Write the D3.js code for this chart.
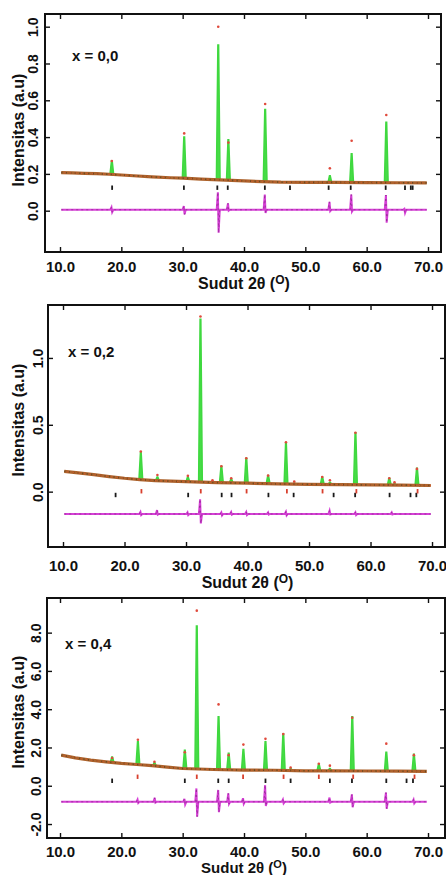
<!DOCTYPE html>
<html>
<head>
<meta charset="utf-8">
<script src="https://cdn.jsdelivr.net/npm/d3@7"></script>
<style>
  body { margin: 0; background: #fff; }
  text { font-family: "Liberation Sans", Arial, sans-serif; font-weight: bold; fill: #111; }
</style>
</head>
<body>
<svg id="chart" width="446" height="875"></svg>
<script>
// x ticks shared by all three panels
const xTicks = [10, 20, 30, 40, 50, 60, 70];

// ---- panel x = 0,0 ----
// background of the observed pattern [2theta, intensity]
const bg1 = [[10.2,0.207],[12,0.205],[14,0.203],[16,0.201],[18,0.198],[20,0.194],[22,0.19],[25,0.184],
  [28,0.179],[30,0.177],[33,0.172],[35,0.169],[38,0.165],[40,0.162],[43,0.158],[46,0.155],[50,0.154],
  [55,0.154],[60,0.153],[65,0.152],[69.8,0.151]];
// peaks [2theta, base, calculated top, observed top]
const peaks1 = [[18.45,0.198,0.27,0.27],[30.25,0.177,0.40,0.42],[35.8,0.168,0.90,1.00],[37.45,0.165,0.385,0.37],
  [43.45,0.158,0.55,0.58],[54.0,0.154,0.19,0.23],[57.55,0.153,0.31,0.38],[63.2,0.152,0.48,0.52]];
const braggBlack1 = [18.5,30.2,35.65,37.35,43.4,47.5,53.8,57.4,63.1,66.25,67.2,67.5];
const braggRed1 = [];
// difference spikes [2theta, high, low]
const diff1 = [[18.45,0.018,-0.008],[30.25,0.025,-0.02],[35.8,0.10,-0.12],[37.45,0.04,0.0],[43.45,0.088,-0.012],
  [54.0,0.048,-0.002],[57.55,0.088,-0.005],[63.2,0.085,-0.065],[66.2,0.01,-0.012]];
const yTicks1 = [0, 0.2, 0.4, 0.6, 0.8, 1.0];

// ---- panel x = 0,2 ----
const bg2 = [[10.2,0.152],[12.5,0.14],[15,0.127],[17.5,0.113],[20,0.1],[22.5,0.09],[25,0.083],[27.5,0.078],
  [30,0.075],[35,0.068],[40,0.063],[45,0.058],[50,0.055],[55,0.053],[60,0.05],[65,0.049],[69.8,0.046]];
const peaks2 = [[22.65,0.09,0.29,0.30],[25.35,0.083,0.11,0.125],[30.3,0.075,0.11,0.118],[32.35,0.072,1.29,1.31],
  [34.3,0.07,0.075,0.085],[35.75,0.068,0.19,0.19],[37.35,0.066,0.095,0.10],[39.8,0.063,0.25,0.25],
  [43.35,0.06,0.12,0.12],[46.25,0.058,0.36,0.37],[47.6,0.057,0.065,0.075],[52.15,0.054,0.11,0.11],
  [53.4,0.054,0.07,0.085],[57.55,0.052,0.44,0.44],[63.05,0.05,0.10,0.10],[63.9,0.05,0.06,0.07],
  [67.55,0.048,0.175,0.17]];
const braggBlack2 = [18.55,30.35,35.8,37.4,43.4,47.5,54.0,57.5,63.1,66.5,67.45];
const braggRed2 = [22.75,32.4,39.85,46.4,52.2,57.7,67.65];
const diff2 = [[22.65,-0.152,-0.175],[25.35,-0.138,-0.172],[30.3,-0.155,-0.175],[32.35,-0.057,-0.238],
  [35.8,-0.155,-0.178],[37.4,-0.152,-0.172],[39.85,-0.152,-0.175],[43.4,-0.155,-0.172],[46.3,-0.15,-0.178],
  [53.4,-0.142,-0.17],[57.6,-0.155,-0.175],[63.5,-0.155,-0.17]];
const yTicks2 = [0, 0.5, 1.0];

// ---- panel x = 0,4 ----
const bg3 = [[10.2,1.6],[12.5,1.46],[15,1.34],[17.5,1.25],[20,1.17],[22.5,1.11],[25,1.05],[27.5,0.97],
  [30,0.9],[35,0.85],[40,0.82],[45,0.81],[50,0.78],[55,0.78],[60,0.77],[65,0.76],[69.8,0.75]];
const peaks3 = [[18.5,1.22,1.5,1.45],[22.7,1.1,2.3,2.4],[25.4,1.04,1.2,1.25],[30.35,0.9,1.86,1.75],
  [32.3,0.88,8.35,9.15],[35.85,0.85,3.6,4.25],[37.5,0.84,1.7,1.6],[39.9,0.82,1.9,2.15],[43.5,0.81,2.3,2.45],
  [46.4,0.8,2.7,2.7],[47.6,0.8,0.9,0.95],[52.2,0.78,1.12,1.15],[54.0,0.78,0.9,1.05],[57.65,0.77,3.6,3.55],
  [63.2,0.76,1.75,2.2],[67.7,0.75,1.65,1.6]];
const braggBlack3 = [18.5,30.35,35.8,37.5,43.5,47.6,54.0,57.6,63.2,66.5,67.55];
const braggRed3 = [22.65,32.3,39.85,46.45,52.2,57.8,67.8];
const diff3 = [[22.7,-0.72,-0.9],[25.5,-0.63,-0.88],[30.35,-0.68,-0.98],[32.3,-0.14,-1.62],[35.85,-0.22,-1.38],
  [37.5,-0.4,-0.95],[39.9,-0.65,-0.95],[43.5,0.03,-1.05],[46.4,-0.72,-0.92],[54.0,-0.62,-0.88],
  [57.65,-0.45,-1.12],[63.2,-0.36,-1.2],[67.7,-0.72,-0.92]];
const yTicks3 = [-2, 0, 2, 4, 6, 8];

// levels of the difference curve and of the two rows of Bragg marks
const diffLevels = [0.005, -0.167, -0.84];
const braggLevels = [[0.125, null], [-0.025, 0.003], [0.26, 0.47]];
const labels = ["x = 0,0", "x = 0,2", "x = 0,4"];

// layout of each panel (pixels) and the visible data window
const panels = [
  {box: {left: 45, right: 441, top: 14, bottom: 252}, xDom: [7.554, 72.12], yDom: [-0.2245, 1.069],
   xPad: 9.5, yPad: 7, titleY: 289, titleSize: 16, yTitle: 130, lab: [27, 46.5],
   bg: bg1, peaks: peaks1, black: braggBlack1, red: braggRed1, diff: diff1, yTicks: yTicks1},
  {box: {left: 48, right: 445, top: 305, bottom: 547}, xDom: [7.56, 72.11], yDom: [-0.414, 1.396],
   xPad: 13.5, yPad: 5.5, titleY: 588, titleSize: 16, yTitle: 420, lab: [20, 52],
   bg: bg2, peaks: peaks2, black: braggBlack2, red: braggRed2, diff: diff2, yTicks: yTicks2},
  {box: {left: 47, right: 445, top: 598, bottom: 838}, xDom: [7.88, 72.77], yDom: [-2.73, 9.81],
   xPad: 8, yPad: 6.2, titleY: 873.3, titleSize: 15, yTitle: 712, lab: [18, 50.5],
   bg: bg3, peaks: peaks3, black: braggBlack3, red: braggRed3, diff: diff3, yTicks: yTicks3}
];

const svg = d3.select("#chart");
const fmt = d => d.toFixed(1);

function drawPanel(p, i) {
  const x = d3.scaleLinear().domain(p.xDom).range([p.box.left, p.box.right]);
  const y = d3.scaleLinear().domain(p.yDom).range([p.box.bottom, p.box.top]);
  const g = svg.append("g");
  const line = d3.line().x(d => x(d[0])).y(d => y(d[1]));

  // calculated peaks (green)
  g.selectAll("path.peak")
    .data(p.peaks)
    .enter().append("path")
      .attr("class", "peak")
      .attr("d", d => line([[d[0]-0.3, d[1]], [d[0]-0.06, d[2]], [d[0]+0.06, d[2]], [d[0]+0.3, d[1]]]))
      .style("fill", "#46dc46")
      .style("stroke", "#3fd83f")
      .style("stroke-width", 1.5);

  // observed background band (orange-brown dots with darker speckle)
  g.append("path")
    .attr("d", line(p.bg))
    .style("fill", "none")
    .style("stroke", "#ad632c")
    .style("stroke-width", 3.2);
  g.append("path")
    .attr("d", line(p.bg))
    .style("fill", "none")
    .style("stroke", "#6a4a22")
    .style("stroke-width", 1.6)
    .style("stroke-dasharray", "1.2 3.3");
  g.append("path")
    .attr("d", line(p.bg))
    .style("fill", "none")
    .style("stroke", "#cf5a2c")
    .style("stroke-width", 1.4)
    .style("stroke-dasharray", "1 4.5")
    .style("stroke-dashoffset", 2.2);

  // observed points on the peak tops
  g.selectAll("circle.obs")
    .data(p.peaks)
    .enter().append("circle")
      .attr("class", "obs")
      .attr("cx", d => x(d[0]))
      .attr("cy", d => y(d[3]))
      .attr("r", 1.3)
      .style("fill", "#e04a3c");

  // Bragg positions
  const [lvBlack, lvRed] = braggLevels[i];
  g.selectAll("line.bb")
    .data(p.black)
    .enter().append("line")
      .attr("class", "bb")
      .attr("x1", d => x(d)).attr("x2", d => x(d))
      .attr("y1", y(lvBlack) - 2.2).attr("y2", y(lvBlack) + 2.2)
      .style("stroke", "#1a1a1a").style("stroke-width", 1.8);
  if (lvRed !== null) {
    g.selectAll("line.br")
      .data(p.red)
      .enter().append("line")
        .attr("class", "br")
        .attr("x1", d => x(d)).attr("x2", d => x(d))
        .attr("y1", y(lvRed) - 2.2).attr("y2", y(lvRed) + 2.2)
        .style("stroke", "#d8402e").style("stroke-width", 1.8);
  }

  // difference curve (magenta)
  const lv = diffLevels[i];
  let pts = [[10.2, lv]];
  p.diff.forEach(d => {
    pts.push([d[0]-0.25, lv], [d[0]-0.06, d[1]], [d[0]+0.06, d[2]], [d[0]+0.25, lv]);
  });
  pts.push([69.8, lv]);
  g.append("path")
    .attr("d", line(pts))
    .style("fill", "none")
    .style("stroke", "#d63fd6")
    .style("stroke-width", 2);
  g.append("path")
    .attr("d", line(pts))
    .style("fill", "none")
    .style("stroke", "#8a2a8a")
    .style("stroke-width", 0.7)
    .style("stroke-dasharray", "2 3");

  // axes with inward ticks
  const cleanup = a => {
    a.attr("font-size", null).attr("font-family", null);
    a.select(".domain").remove();
    a.selectAll(".tick line").style("stroke", "#111").style("stroke-width", 1.4);
  };
  g.append("g")
    .attr("transform", `translate(0,${p.box.bottom})`)
    .call(d3.axisBottom(x).tickValues(xTicks).tickSize(-5).tickPadding(p.xPad).tickFormat(fmt))
    .call(cleanup)
    .selectAll("text").style("font-size", "15px");
  g.append("g")
    .attr("transform", `translate(0,${p.box.top})`)
    .call(d3.axisTop(x).tickValues(xTicks).tickSize(-5).tickFormat(""))
    .call(cleanup);
  g.append("g")
    .attr("transform", `translate(${p.box.left},0)`)
    .call(d3.axisLeft(y).tickValues(p.yTicks).tickSize(-5).tickFormat(fmt))
    .call(cleanup)
    .selectAll("text")
      .attr("x", null).attr("dy", null)
      .attr("text-anchor", "middle")
      .attr("transform", `translate(${-p.yPad},0) rotate(-90)`)
      .style("font-size", "14px");
  g.append("g")
    .attr("transform", `translate(${p.box.right},0)`)
    .call(d3.axisRight(y).tickValues(p.yTicks).tickSize(-5).tickFormat(""))
    .call(cleanup);

  // frame
  g.append("rect")
    .attr("x", p.box.left).attr("y", p.box.top)
    .attr("width", p.box.right - p.box.left)
    .attr("height", p.box.bottom - p.box.top)
    .style("fill", "none").style("stroke", "#111").style("stroke-width", 2);

  // composition label
  g.append("text")
    .attr("x", p.box.left + p.lab[0])
    .attr("y", p.box.top + p.lab[1])
    .style("font-size", "15px")
    .text(labels[i]);

  // axis titles
  const t = g.append("text")
    .attr("x", x(40))
    .attr("y", p.titleY)
    .attr("text-anchor", "middle")
    .style("font-size", p.titleSize + "px");
  t.append("tspan").text("Sudut 2\u03b8 (");
  t.append("tspan").attr("dy", -5).style("font-size", (p.titleSize - 4) + "px").text("O");
  t.append("tspan").attr("dy", 5).text(")");

  g.append("text")
    .attr("transform", `translate(24,${p.yTitle}) rotate(-90)`)
    .attr("text-anchor", "middle")
    .style("font-size", "16px")
    .text("Intensitas (a.u)");
}

panels.forEach(drawPanel);
</script>
</body>
</html>
